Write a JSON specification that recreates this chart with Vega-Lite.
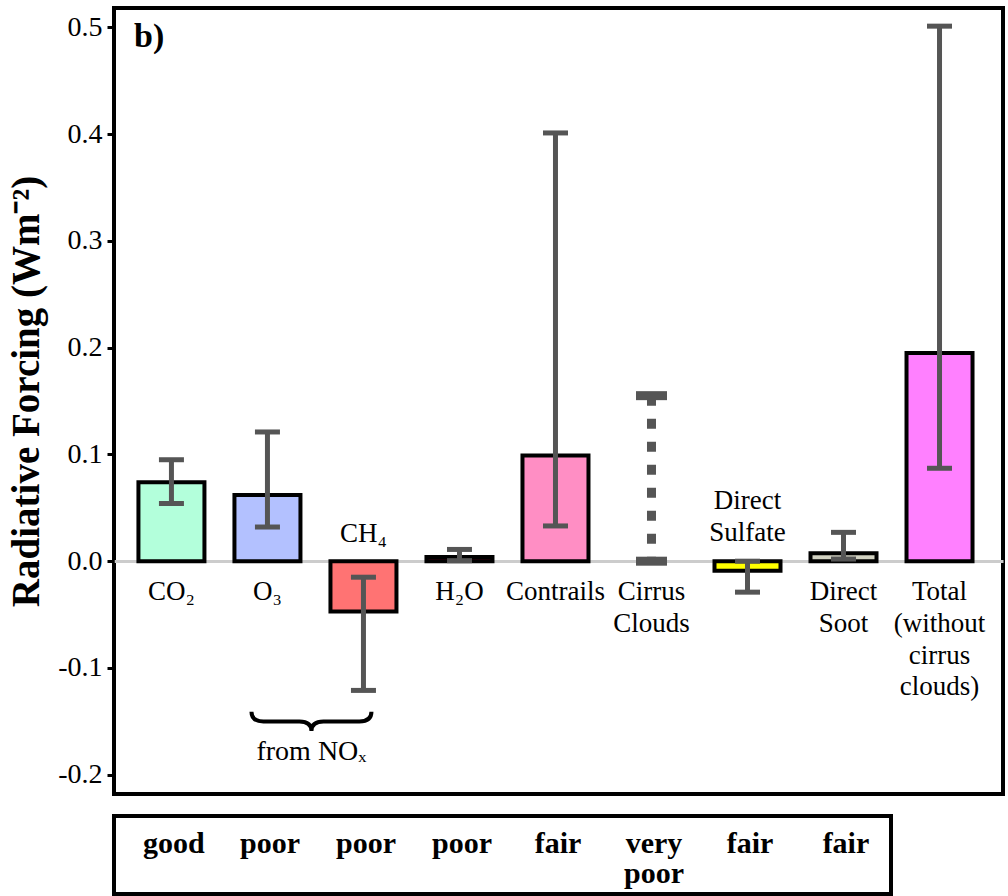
{
  "$schema": "https://vega.github.io/schema/vega-lite/v6.json",
  "background": "white",
  "padding": {"left": 5, "top": 6, "right": 2, "bottom": 3},
  "spacing": 18,
  "config": {
    "view": {"stroke": "black", "strokeWidth": 4},
    "font": "Liberation Serif"
  },
  "vconcat": [
    {
      "width": 889,
      "height": 786,
      "title": {"text": "b)", "anchor": "start", "frame": "group", "dx": 20, "offset": -46, "fontSize": 34, "font": "Liberation Serif", "fontWeight": "bold", "color": "black"},
      "data": {
        "values": [
          {"key": "CO2", "label": "CO₂", "value": 0.074, "lo": 0.054, "hi": 0.095},
          {"key": "O3", "label": "O₃", "value": 0.062, "lo": 0.032, "hi": 0.121},
          {"key": "CH4", "label": "CH₄", "value": -0.047, "lo": -0.121, "hi": -0.015},
          {"key": "H2O", "label": "H₂O", "value": 0.004, "lo": 0.0005, "hi": 0.011},
          {"key": "Contrails", "label": "Contrails", "value": 0.099, "lo": 0.033, "hi": 0.401},
          {"key": "Cirrus", "label": "Cirrus\nClouds", "value": null, "lo": 0.0, "hi": 0.155},
          {"key": "Sulfate", "label": "Direct\nSulfate", "value": -0.009, "lo": -0.029, "hi": 0.0},
          {"key": "Soot", "label": "Direct\nSoot", "value": 0.0075, "lo": 0.002, "hi": 0.027},
          {"key": "Total", "label": "Total\n(without\ncirrus\nclouds)", "value": 0.195, "lo": 0.087, "hi": 0.501}
        ]
      },
      "encoding": {
        "x": {
          "field": "key", "type": "nominal",
          "scale": {"type": "band", "domain": ["CO2", "O3", "CH4", "H2O", "Contrails", "Cirrus", "Sulfate", "Soot", "Total"], "paddingInner": 0.3125, "paddingOuter": 0.286, "align": 0.445},
          "axis": null
        }
      },
      "layer": [
        {
          "transform": [{"filter": "datum.value != null"}],
          "mark": {"type": "bar", "stroke": "black", "strokeWidth": 4},
          "encoding": {
            "y": {
              "field": "value", "type": "quantitative",
              "scale": {"domain": [-0.218, 0.518], "nice": false, "zero": false},
              "axis": {
                "values": [-0.2, -0.1, 0, 0.1, 0.2, 0.3, 0.4, 0.5],
                "labelExpr": "datum.value < 0 ? '-' + format(abs(datum.value), '.1f') : format(datum.value, '.1f')",
                "domain": false,
                "ticks": true, "tickColor": "black", "tickWidth": 3, "tickSize": 7,
                "grid": true, "gridColor": "#cccccc", "gridWidth": 3,
                "gridOpacity": {"condition": {"test": "datum.value === 0", "value": 1}, "value": 0},
                "labelFont": "Liberation Serif", "labelFontSize": 28, "labelColor": "black", "labelPadding": 5,
                "title": "Radiative Forcing (Wm⁻²)",
                "titleFont": "Liberation Serif", "titleFontSize": 39, "titleFontWeight": "bold", "titleColor": "black", "titlePadding": 11, "titleY": 383
              }
            },
            "fill": {
              "field": "key", "type": "nominal",
              "scale": {"domain": ["CO2", "O3", "CH4", "H2O", "Contrails", "Cirrus", "Sulfate", "Soot", "Total"], "range": ["#b3ffdb", "#b3c1ff", "#ff7373", "#66001a", "#ff8ec4", "#ffffff", "#ffff00", "#d2d2c2", "#ff80ff"]},
              "legend": null
            }
          }
        },
        {
          "transform": [{"filter": "datum.key !== 'Cirrus'"}],
          "mark": {"type": "rule", "color": "#555555", "strokeWidth": 5},
          "encoding": {
            "y": {"field": "lo", "type": "quantitative"},
            "y2": {"field": "hi"}
          }
        },
        {
          "transform": [{"filter": "datum.key !== 'Cirrus'"}],
          "mark": {"type": "tick", "color": "#555555", "size": 25, "thickness": 5, "opacity": 1},
          "encoding": {"y": {"field": "lo", "type": "quantitative"}}
        },
        {
          "transform": [{"filter": "datum.key !== 'Cirrus'"}],
          "mark": {"type": "tick", "color": "#555555", "size": 25, "thickness": 5, "opacity": 1},
          "encoding": {"y": {"field": "hi", "type": "quantitative"}}
        },
        {
          "transform": [{"filter": "datum.key === 'Cirrus'"}],
          "mark": {"type": "rule", "color": "#555555", "strokeWidth": 9, "strokeDash": [10, 13]},
          "encoding": {
            "y": {"field": "hi", "type": "quantitative"},
            "y2": {"field": "lo"}
          }
        },
        {
          "transform": [{"filter": "datum.key === 'Cirrus'"}],
          "mark": {"type": "tick", "color": "#555555", "size": 31, "thickness": 9, "opacity": 1},
          "encoding": {"y": {"field": "lo", "type": "quantitative"}}
        },
        {
          "transform": [{"filter": "datum.key === 'Cirrus'"}],
          "mark": {"type": "tick", "color": "#555555", "size": 31, "thickness": 9, "opacity": 1},
          "encoding": {"y": {"field": "hi", "type": "quantitative"}}
        },
        {
          "transform": [{"filter": "!(datum.value < 0)"}],
          "mark": {"type": "text", "baseline": "top", "dy": 18, "fontSize": 27, "font": "Liberation Serif", "color": "black", "lineBreak": "\n", "lineHeight": 31.7},
          "encoding": {
            "y": {"datum": 0, "type": "quantitative"},
            "text": {"field": "label"}
          }
        },
        {
          "transform": [{"filter": "datum.key === 'CH4'"}],
          "mark": {"type": "text", "baseline": "bottom", "dy": -13, "fontSize": 27, "font": "Liberation Serif", "color": "black"},
          "encoding": {
            "y": {"datum": 0, "type": "quantitative"},
            "text": {"field": "label"}
          }
        },
        {
          "transform": [{"filter": "datum.key === 'Sulfate'"}],
          "mark": {"type": "text", "baseline": "bottom", "dy": -46, "fontSize": 27, "font": "Liberation Serif", "color": "black", "lineBreak": "\n", "lineHeight": 31.7},
          "encoding": {
            "y": {"datum": 0, "type": "quantitative"},
            "text": {"field": "label"}
          }
        },
        {
          "data": {"values": [{"t": "brace"}]},
          "mark": {"type": "point", "shape": "M -1 -0.16 Q -1 0 -0.8 0 L -0.2 0 Q 0 0 0 0.16 Q 0 0 0.2 0 L 0.8 0 Q 1 0 1 -0.16", "size": 14400, "filled": false, "stroke": "black", "strokeWidth": 4, "opacity": 1, "xOffset": 44},
          "encoding": {
            "x": {"datum": "O3"},
            "y": {"datum": -0.15, "type": "quantitative"}
          }
        },
        {
          "data": {"values": [{"t": "from NOₓ"}]},
          "mark": {"type": "text", "baseline": "alphabetic", "fontSize": 28, "font": "Liberation Serif", "color": "black", "xOffset": 44},
          "encoding": {
            "x": {"datum": "O3"},
            "y": {"datum": -0.186, "type": "quantitative"},
            "text": {"field": "t"}
          }
        }
      ]
    },
    {
      "width": 777,
      "height": 78,
      "data": {
        "values": [
          {"key": "CO2", "rating": "good"},
          {"key": "O3", "rating": "poor"},
          {"key": "CH4", "rating": "poor"},
          {"key": "H2O", "rating": "poor"},
          {"key": "Contrails", "rating": "fair"},
          {"key": "Cirrus", "rating": "very\npoor"},
          {"key": "Sulfate", "rating": "fair"},
          {"key": "Soot", "rating": "fair"}
        ]
      },
      "mark": {"type": "text", "baseline": "alphabetic", "dy": -2, "lineBreak": "\n", "lineHeight": 30, "font": "Liberation Serif", "fontWeight": "bold", "fontSize": 30, "color": "black"},
      "encoding": {
        "x": {
          "field": "key", "type": "nominal",
          "scale": {"type": "point", "domain": ["CO2", "O3", "CH4", "H2O", "Contrails", "Cirrus", "Sulfate", "Soot"], "padding": 0.547, "align": 0.571},
          "axis": null
        },
        "text": {"field": "rating"}
      }
    }
  ]
}
